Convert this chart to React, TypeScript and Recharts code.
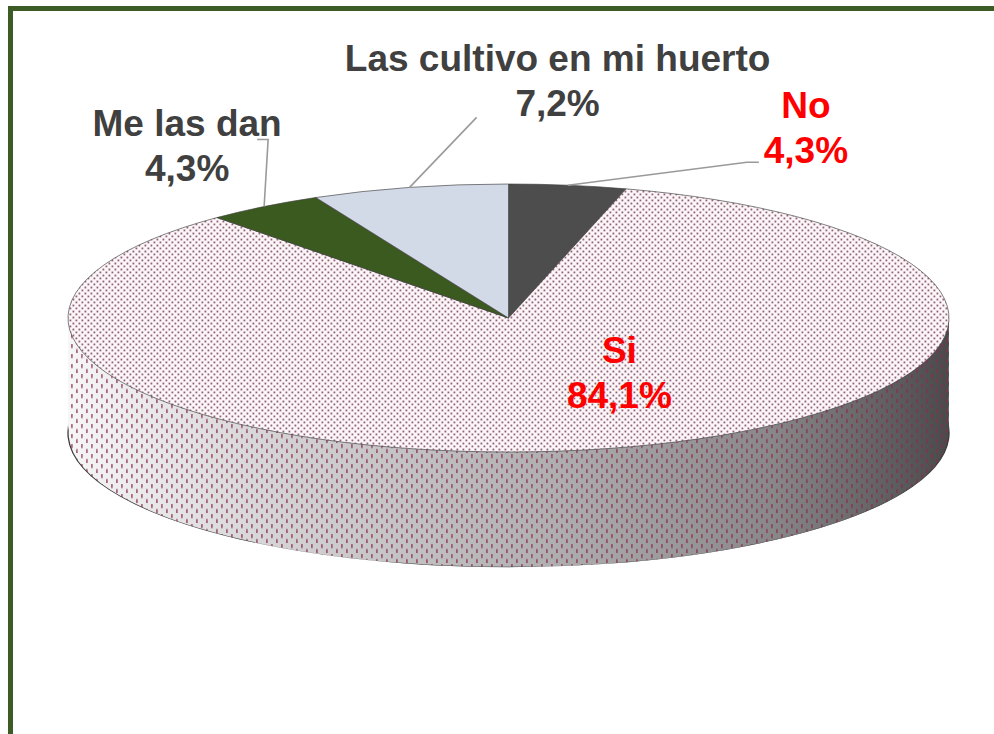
import React from 'react';
import { PieChart, Pie, Cell } from 'recharts';

// ---- data ----
const categories = ['No', 'Si', 'Me las dan', 'Las cultivo en mi huerto'];
const shares = [4.3, 84.1, 4.3, 7.2];
const data = categories.map((name, i) => ({ name, value: shares[i] }));

// ---- styling / layout ----
const sliceFills = ['#4d4d4d', 'url(#topPat)', '#3b5a1f', '#d2d9e7'];
const labelColors = ['#ff0000', '#ff0000', '#404040', '#404040'];
// text anchor offset relative to rim point (screen px), leader-line points relative to rim
const labelLayout = [
  { dx: 238, dy: -67, line: [[179, -23], [191, -23]] },
  { dx: 12, dy: -86, line: null },
  { dx: -77, dy: -71, line: [[4, -67], [-7, -67]] },
  { dx: 148, dy: -116, line: [[67, -70]] },
];

const W = 994;
const H = 734;
const CX = 508.5;
const R = 440.5;
const HL = 920; // local (unscaled) chart height
const CY_LOCAL = HL / 2;
const CY_SCREEN = 318;
const RY = 134;
const K = RY / R;
const DEPTH = 115;
const STEP = 10;
const layerDepths: number[] = [];
for (let d = DEPTH; d > 0; d -= STEP) layerDepths.push(d);

const fmt = (v: number) => v.toFixed(1).replace('.', ',') + '%';
const FONT = { fontFamily: '"Liberation Sans", Arial, sans-serif', fontWeight: 700, fontSize: 37 };

const renderLabel = (props: any) => {
  const { cx, midAngle, index, payload, value } = props;
  const rad = Math.PI / 180;
  const rx = cx + R * Math.cos(-midAngle * rad);
  const ry = CY_SCREEN + RY * Math.sin(-midAngle * rad);
  const lay = labelLayout[index];
  const tx = rx + lay.dx;
  const ty = ry + lay.dy;
  const name = payload && payload.name ? payload.name : categories[index];
  const pts = lay.line ? [[rx, ry], ...lay.line.map(([a, b]) => [rx + a, ry + b])] : null;
  return (
    <g key={`lab-${index}`}>
      {pts && (
        <polyline points={pts.map((p) => p.join(',')).join(' ')} fill="none" stroke="#9a9a9a" strokeWidth={1.6} />
      )}
      <text x={tx} y={ty} textAnchor="middle" fill={labelColors[index]} style={FONT}>
        {name}
      </text>
      <text x={tx} y={ty + 45} textAnchor="middle" fill={labelColors[index]} style={FONT}>
        {fmt(value)}
      </text>
    </g>
  );
};

const pieCommon = {
  data,
  dataKey: 'value',
  nameKey: 'name',
  cx: CX,
  cy: CY_LOCAL,
  outerRadius: R,
  startAngle: 90,
  endAngle: -270,
  isAnimationActive: false,
};

const layerStyle = (d: number): React.CSSProperties => ({
  position: 'absolute',
  left: 0,
  top: 0,
  width: W,
  height: HL,
  transformOrigin: `0px ${CY_LOCAL}px`,
  transform: `translateY(${CY_SCREEN + d - CY_LOCAL}px) scaleY(${K})`,
});

export default function App() {
  return (
    <div style={{ position: 'absolute', left: 0, top: 0, width: W, height: H, overflow: 'hidden', background: '#fff' }}>
      <style>{`.recharts-sector{vector-effect:non-scaling-stroke}`}</style>
      <div
        style={{
          position: 'absolute',
          left: 8,
          top: 6,
          width: 1200,
          height: 1000,
          border: '5px solid #3d5b24',
          boxSizing: 'border-box',
        }}
      />
      <svg width={0} height={0} style={{ position: 'absolute' }}>
        <defs>
          <linearGradient id="sideGrad" gradientUnits="userSpaceOnUse" x1={CX - R} y1={0} x2={CX + R} y2={0}>
            <stop offset="0" stopColor="#f6f6f6" />
            <stop offset="0.25" stopColor="#d2d2d2" />
            <stop offset="0.55" stopColor="#afafaf" />
            <stop offset="0.8" stopColor="#888888" />
            <stop offset="1" stopColor="#4a4a4a" />
          </linearGradient>
          <pattern id="sidePat" patternUnits="userSpaceOnUse" width={10} height={10 / K}>
            <rect x={1} y={1 / K} width={1.8} height={4 / K} fill="#8a2a52" opacity={0.7} />
            <rect x={6} y={6 / K} width={1.8} height={4 / K} fill="#8a2a52" opacity={0.7} />
          </pattern>
          <pattern id="topPat" patternUnits="userSpaceOnUse" width={6} height={6 / K}>
            <rect x={0} y={0} width={6} height={6 / K} fill="#fdf6f8" />
            <rect x={0.5} y={0.5 / K} width={1.8} height={1.8 / K} fill="#7d4c63" opacity={0.9} />
            <rect x={3.5} y={3.5 / K} width={1.8} height={1.8 / K} fill="#7d4c63" opacity={0.9} />
          </pattern>
        </defs>
      </svg>
      {layerDepths.map((d) => (
        <div key={d} style={layerStyle(d)}>
          <PieChart width={W} height={HL} margin={{ top: 0, right: 0, bottom: 0, left: 0 }}>
            <Pie {...pieCommon} fill="url(#sideGrad)" stroke="none" legendType="none" />
            <Pie
              {...pieCommon}
              fill="url(#sidePat)"
              stroke={d === DEPTH ? '#3a3a3a' : 'none'}
              strokeWidth={1.3}
              legendType="none"
            />
          </PieChart>
        </div>
      ))}
      <div style={layerStyle(0)}>
        <PieChart width={W} height={HL} margin={{ top: 0, right: 0, bottom: 0, left: 0 }}>
          <Pie {...pieCommon} stroke="#3f3f3f" strokeWidth={1}>
            {data.map((entry, i) => (
              <Cell key={entry.name} fill={sliceFills[i]} />
            ))}
          </Pie>
        </PieChart>
      </div>
      <div style={{ position: 'absolute', left: 0, top: 0 }}>
        <PieChart width={W} height={H} margin={{ top: 0, right: 0, bottom: 0, left: 0 }}>
          <Pie {...pieCommon} cy={H / 2} fill="none" stroke="none" label={renderLabel} labelLine={false} />
        </PieChart>
      </div>
    </div>
  );
}
